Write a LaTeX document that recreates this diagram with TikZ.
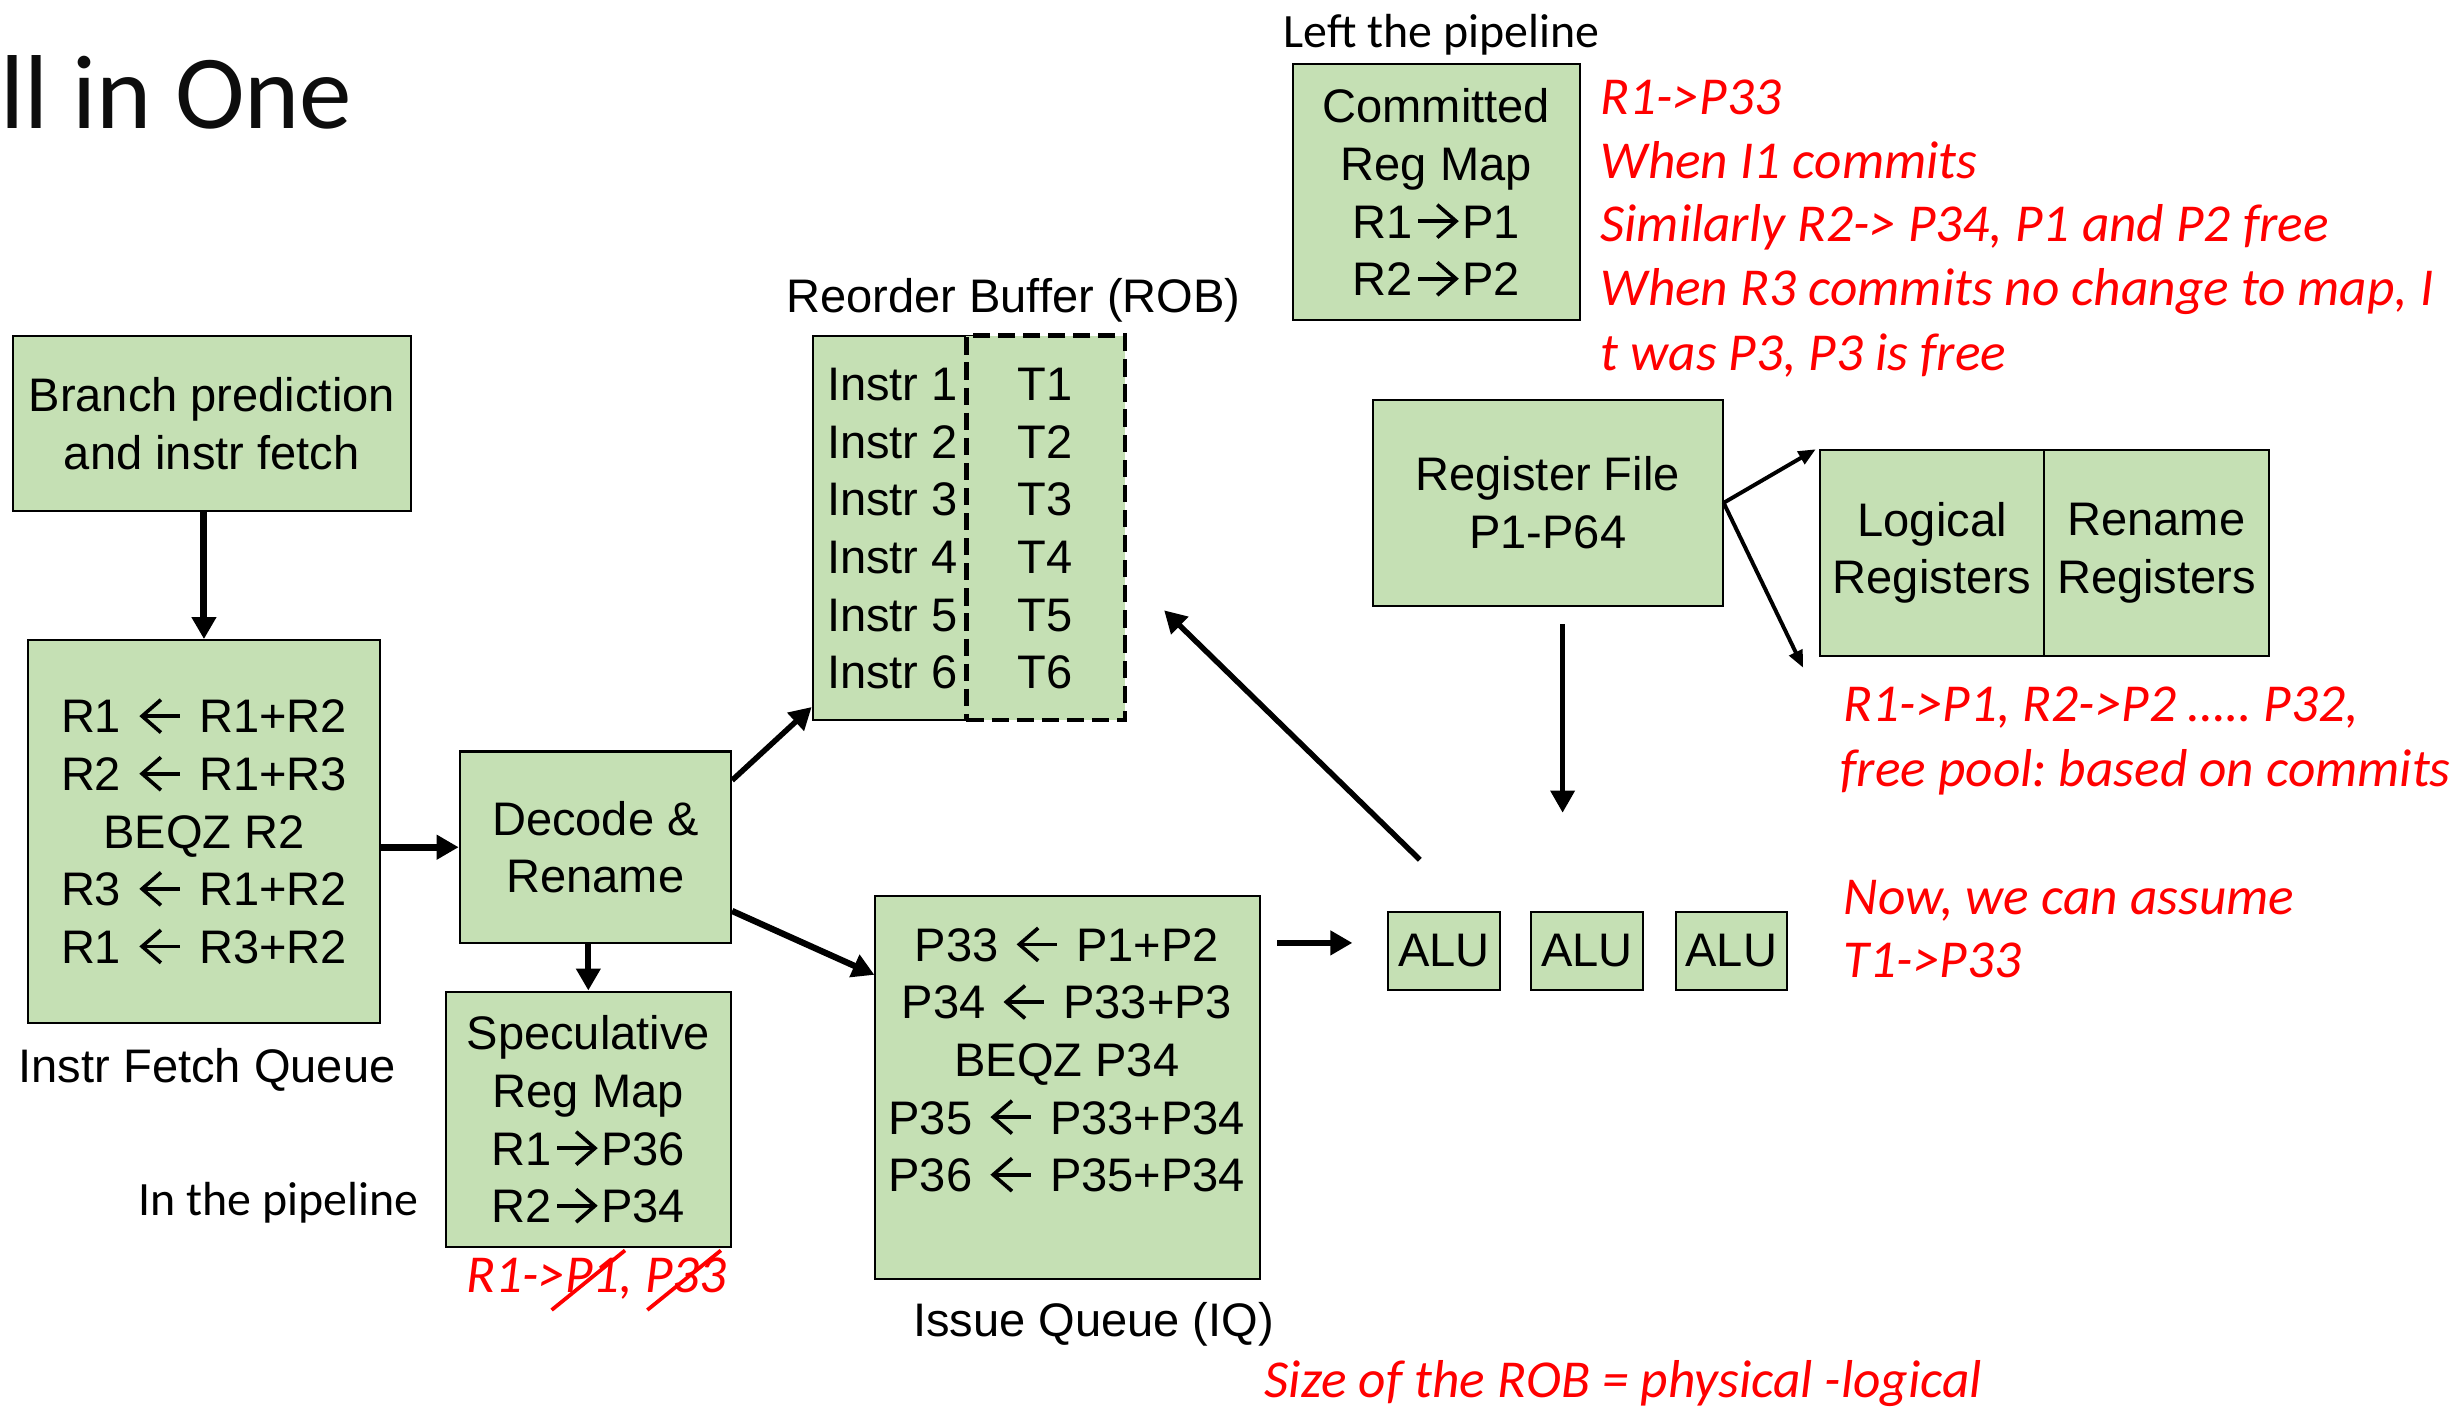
\documentclass[tikz,border=0pt]{standalone}
\usepackage{fontspec}
\setmainfont{Liberation Sans}
\newfontfamily\calfont{Carlito}
\usetikzlibrary{arrows.meta,calc}
\definecolor{boxgreen}{HTML}{C5E0B4}
\definecolor{redtxt}{HTML}{FF0000}
\definecolor{titlecol}{HTML}{0D0D0D}
\newsavebox\larbox
\newsavebox\rarbox
\begin{document}
\frenchspacing
\sbox\larbox{\begin{pgfpicture}%
  \pgfpathrectanglecorners{\pgfpoint{-4pt}{0pt}}{\pgfpoint{29pt}{21.5pt}}\pgfusepath{use as bounding box}%
  \pgfsetlinewidth{2.3pt}\pgfsetmiterjoin\pgfsetbuttcap
  \pgfpathmoveto{\pgfpoint{0.8pt}{10.75pt}}\pgfpathlineto{\pgfpoint{25pt}{10.75pt}}\pgfusepath{stroke}%
  \pgfpathmoveto{\pgfpoint{13pt}{21.2pt}}\pgfpathlineto{\pgfpoint{1pt}{10.75pt}}\pgfpathlineto{\pgfpoint{13pt}{0.3pt}}\pgfusepath{stroke}%
\end{pgfpicture}}
\sbox\rarbox{\begin{pgfpicture}%
  \pgfpathrectanglecorners{\pgfpoint{-3.5pt}{0pt}}{\pgfpoint{28pt}{21.5pt}}\pgfusepath{use as bounding box}%
  \pgfsetlinewidth{2.3pt}\pgfsetmiterjoin\pgfsetbuttcap
  \pgfpathmoveto{\pgfpoint{0pt}{10.75pt}}\pgfpathlineto{\pgfpoint{24.2pt}{10.75pt}}\pgfusepath{stroke}%
  \pgfpathmoveto{\pgfpoint{12pt}{21.2pt}}\pgfpathlineto{\pgfpoint{24pt}{10.75pt}}\pgfpathlineto{\pgfpoint{12pt}{0.3pt}}\pgfusepath{stroke}%
\end{pgfpicture}}
\newcommand\lar{\usebox\larbox}
\newcommand\rar{\usebox\rarbox}
\begin{tikzpicture}[x=1pt,y=-1pt,
  gbox/.style={draw=black,line width=1.3pt,fill=boxgreen,inner sep=0pt,
    font=\fontsize{30}{36.7}\selectfont,align=center},
  btxt/.style={font=\fontsize{30}{36.7}\selectfont,align=center,inner sep=0pt},
  rtxt/.style={font=\calfont\itshape\fontsize{34}{40}\selectfont,text=redtxt,inner sep=0pt,anchor=base west},
  ntxt/.style={font=\calfont\fontsize{30.5}{34}\selectfont,inner sep=0pt,anchor=base west},
  arr/.style={line width=4pt,-{Triangle[length=14pt,width=15pt]}},
  thinarr/.style={line width=2.5pt,-{Triangle[length=11pt,width=9pt]}},
]
\useasboundingbox[fill=white] (0,0) rectangle (1568,897);

% title and notes
\node[font=\calfont\fontsize{67}{72}\selectfont,text=titlecol,anchor=base west,inner sep=0pt] (title) at (0,82) {ll in One};
\node[ntxt] (leftp) at (818,30) {Left the pipeline};
\node[ntxt] (inp) at (88,775) {In the pipeline};

% boxes
\node[gbox,minimum width=254pt,minimum height=112pt] (branch) at (135,270) {Branch prediction\\and instr fetch};
\node[gbox,minimum width=224pt,minimum height=244pt] (ifq) at (130,530)
  {R1 \lar{} R1+R2\\R2 \lar{} R1+R3\\BEQZ R2\\R3 \lar{} R1+R2\\R1 \lar{} R3+R2};
\node[gbox,minimum width=173pt,minimum height=122pt] (decode) at (379.5,540) {Decode \&\\Rename};
\node[gbox,minimum width=182pt,minimum height=163pt] (spec) at (375,713.5)
  {Speculative\\Reg Map\\R1\rar P36\\R2\rar P34};
\node[gbox,minimum width=245pt,minimum height=244pt] (iq) at (680.5,693) {};
\node[btxt] (iqtxt) at (680,675.5)
  {P33 \lar{} P1+P2\\P34 \lar{} P33+P3\\BEQZ P34\\P35 \lar{} P33+P34\\P36 \lar{} P35+P34};
\node[gbox,minimum width=102pt,minimum height=245pt] (robl) at (569,336.5) {};
\node[gbox,minimum width=101pt,minimum height=245pt,line width=3pt,dash pattern=on 11pt off 5pt] (robr) at (666.5,336.5) {};
\node[btxt,align=left,anchor=west] (robi) at (527,337) {Instr 1\\Instr 2\\Instr 3\\Instr 4\\Instr 5\\Instr 6};
\node[btxt] (robt) at (666,337) {T1\\T2\\T3\\T4\\T5\\T6};
\node[gbox,minimum width=183pt,minimum height=163pt] (commit) at (915.5,122.5)
  {Committed\\Reg Map\\R1\rar P1\\R2\rar P2};
\node[gbox,minimum width=223pt,minimum height=131pt] (regfile) at (986.5,320.5) {Register File\\P1-P64};
\node[gbox,minimum width=143pt,minimum height=131pt] (logical) at (1231.5,352.5) {Logical\\Registers};
\node[gbox,minimum width=143pt,minimum height=131pt] (rename) at (1374.5,352.5) {Rename\\Registers};
\node[gbox,minimum width=71pt,minimum height=50pt] (alu1) at (920.5,606) {ALU};
\node[gbox,minimum width=71pt,minimum height=50pt] (alu2) at (1011.5,606) {ALU};
\node[gbox,minimum width=71pt,minimum height=50pt] (alu3) at (1103.5,606) {ALU};

% labels
\node[btxt,anchor=base] (roblab) at (646,199) {Reorder Buffer (ROB)};
\node[btxt,anchor=base] (ifqlab) at (132,690) {Instr Fetch Queue};
\node[btxt,anchor=base] (iqlab) at (697,852) {Issue Queue (IQ)};

% red notes
\node[rtxt] (r1) at (1020,73) {R1->P33};
\node[rtxt] (r2) at (1020,114) {When I1 commits};
\node[rtxt] (r3) at (1020,154) {Similarly R2-> P34, P1 and P2 free};
\node[rtxt] (r4) at (1020,195) {When R3 commits no change to map, I};
\node[rtxt] (r5) at (1020,236) {t was P3, P3 is free};
\node[rtxt] (r6) at (1175,460) {R1->P1, R2->P2 ….. P32,};
\node[rtxt] (r7) at (1173,501) {free pool: based on commits};
\node[rtxt] (r8) at (1175,583) {Now, we can assume};
\node[rtxt] (r9) at (1175,623) {T1->P33};
\node[rtxt] (r10) at (806,891) {Size of the ROB = physical -logical};
\node[rtxt] (sp) at (297,824) {R1->P1, P33};
\draw[redtxt,line width=2.4pt] (351.6,835) -- (398.4,797);
\draw[redtxt,line width=2.4pt] (412.6,835) -- (459.5,797);

% connectors
\draw[arr,line width=4.5pt] (branch.south -| ifq.north) -- (ifq.north);
\draw[arr,line width=4.5pt] (ifq.east |- decode.west) -- (decode.west);
\draw[arr] (decode.south -| spec.north) -- (spec.north);
\draw[arr,line width=3.5pt] ([yshift=-19pt]decode.north east) -- ([yshift=9pt]robl.south west);
\draw[arr] ([yshift=21pt]decode.south east) -- ([yshift=-51pt]iq.north west);
\coordinate (iqa) at (814,601);
\coordinate (iqb) at (862,601);
\draw[arr] (iqa) -- (iqb);
\coordinate (alua) at (905,548);
\coordinate (alub) at (742,389);
\draw[arr,line width=3.5pt] (alua) -- (alub);
\coordinate (rfa) at (996,398);
\coordinate (rfb) at (996,518);
\draw[arr,line width=3pt] (rfa) -- (rfb);
\draw[thinarr] (regfile.east) -- ([xshift=-2pt]logical.north west);
\draw[thinarr] (regfile.east) -- ([xshift=-10pt,yshift=-7pt]logical.south west);
\end{tikzpicture}
\end{document}
